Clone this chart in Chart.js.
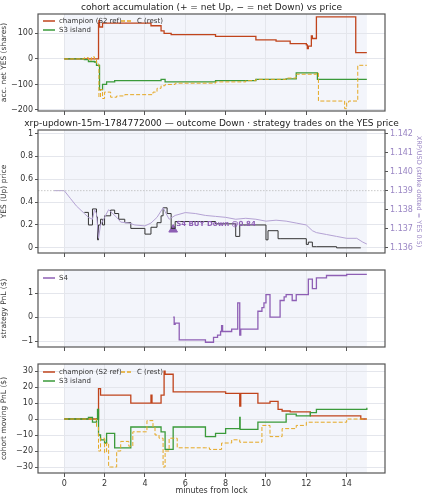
<!DOCTYPE html>
<html><head><meta charset="utf-8">
<script src="https://cdn.jsdelivr.net/npm/chart.js@4"></script>
<style>body{margin:0;background:#fff;width:423px;height:500px;position:relative;overflow:hidden}canvas{position:absolute;left:0}</style>
</head><body>
<div id="w1" style="position:absolute;left:0;top:0;width:423px;height:118px"><canvas id="c1"></canvas></div>
<div id="w2" style="position:absolute;left:0;top:118px;width:423px;height:142px"><canvas id="c2"></canvas></div>
<div id="w3" style="position:absolute;left:0;top:262px;width:423px;height:92px"><canvas id="c3"></canvas></div>
<div id="w4" style="position:absolute;left:0;top:354px;width:423px;height:146px"><canvas id="c4"></canvas></div>
<script>
// ---------- data ----------
const xTicks = [0,2,4,6,8,10,12,14];
// panel 1: accumulated net YES shares
const accChampX = [0,1.7,1.72,1.75,1.9,4.3,4.8,4.95,5.3,7.5,9.5,10.5,11.2,12.0,12.05,12.1,12.25,12.3,12.5,14.45,15.0];
const accChampY = [0,140,150,125,140,130,110,100,95,88,75,70,60,55,40,50,90,80,165,25,25];
const accS3X = [0,1.0,1.2,1.5,1.6,1.75,1.9,2.1,2.5,4.8,5.0,7.5,9.5,11.0,11.5,12.55,15.0];
const accS3Y = [0,-3,-10,-12,-25,-120,-100,-90,-85,-80,-90,-85,-80,-78,-55,-80,-80];
const accCX = [0,1.0,1.2,1.35,1.5,1.6,1.72,1.8,1.9,2.0,2.3,2.6,3.0,3.5,4.4,4.6,4.8,5.0,5.5,7.5,9.0,9.5,11.0,11.5,12.5,12.6,13.9,14.0,14.1,14.55,15.0];
const accCY = [0,5,-5,8,-3,-20,-150,-120,-155,-130,-150,-145,-140,-140,-130,-115,-105,-100,-95,-90,-85,-80,-75,-60,-55,-165,-195,-170,-165,-25,-25];
// panel 2: YES price and XRP/USD
const yesX = [1.0,1.2,1.4,1.6,1.65,1.7,1.8,1.9,2.0,2.3,2.5,2.7,3.0,3.3,4.0,4.3,4.6,4.8,4.9,5.1,5.3,5.5,7.5,8.5,8.7,10.0,10.1,10.2,10.6,10.7,12.0,12.1,12.3,12.5,13.5,14.7];
const yesY = [0.31,0.2,0.34,0.27,0.07,0.2,0.25,0.2,0.28,0.33,0.3,0.25,0.22,0.17,0.12,0.18,0.22,0.28,0.35,0.3,0.17,0.23,0.21,0.1,0.2,0.07,0.15,0.15,0.08,0.08,0.03,0.05,0.01,0.01,0.0,0.0];
const xrpX = [-0.5,0,0.3,0.6,1.0,1.2,1.4,1.5,1.6,1.7,1.8,2.0,2.2,2.3,2.6,2.8,3.2,3.5,4.0,4.3,4.6,4.9,5.0,5.2,5.5,6.0,6.5,7.0,7.5,8.0,8.5,9.0,9.5,10.0,10.5,11.0,11.5,12.0,12.3,12.5,13.0,13.5,14.0,14.5,14.8,15.0];
const xrpY = [1.139,1.139,1.1386,1.1382,1.1378,1.1376,1.1375,1.138,1.1378,1.1365,1.1372,1.1376,1.1380,1.1379,1.1376,1.13735,1.1373,1.1372,1.13715,1.1373,1.1376,1.1381,1.1379,1.1375,1.1377,1.13785,1.1378,1.1377,1.13765,1.1376,1.1375,1.13755,1.1375,1.1374,1.13745,1.1374,1.1373,1.1372,1.1369,1.1368,1.1367,1.1366,1.1365,1.1365,1.1363,1.1362];
const tradeX = [5.4];
const tradeY = [0.16];
const tradeLabel = 'S4 BUY Down @0.84';
// panel 3: S4 strategy PnL
const s4X = [5.4,5.45,5.5,5.7,7.0,7.4,7.6,7.75,7.8,7.85,8.0,8.3,8.6,8.7,8.75,9.6,9.8,9.9,10.0,10.2,10.7,10.9,11.0,11.3,11.5,12.0,12.1,12.3,12.5,13.0,14.0,15.0];
const s4Y = [0,-0.3,-0.25,-0.95,-1.05,-0.85,-0.75,-0.6,-0.35,-0.6,-0.6,-0.5,0.6,-0.75,-0.5,0.25,0.4,0.6,0.95,0,0.7,0.85,0.95,0.7,0.95,0.95,1.6,1.2,1.65,1.75,1.8,1.8];
// panel 4: cohort moving PnL
const pnlChampX = [0,1.7,1.8,3.3,4.3,4.35,4.8,4.95,5.0,5.4,7.5,8.0,8.7,8.75,9.6,10.2,10.6,10.8,11.2,12.2,14.7,15.0];
const pnlChampY = [0,19,15,10,15,10,15,30,28,17,17,16,8,16,10,11,6,5,4.5,2,0,0];
const pnlS3X = [0,1.2,1.4,1.6,1.65,1.7,1.8,2.0,2.1,2.5,3.3,4.8,5.0,5.4,7.0,7.5,8.0,8.7,8.72,9.6,11.0,11.5,12.2,12.5,15.0];
const pnlS3Y = [0,1,-2,0,6,-10,-13,-15,-9,-18,-5,-8,-19,-5,-11,-9,-6,1,-6.5,-2,3,2,4,6,7];
const pnlCX = [0,1.6,1.7,1.8,2.0,2.1,2.2,2.3,2.6,2.8,3.2,3.4,4.0,4.1,4.4,4.5,4.7,4.9,5.0,5.2,5.6,7.0,7.2,7.8,8.3,8.7,9.8,10.2,10.8,11.5,12.0,12.5,14.0,15.0];
const pnlCY = [0,-5,-20,-12,-21,-15,-30,-30,-20,-14,-17,-8,-8,-1,-5,-10,-12,-30,-20,-12,-18,-18,-19,-15,-13,-14.5,-4,-11,-6,-4,-2,-2,0,0];

const pts = (xs, ys) => xs.map((x,i)=>({x, y: ys[i]}));
const C_CH='#c0441c', C_S3='#3a9a3a', C_C='#e5a823', C_S4='#8e5fb5', C_XRP='#b4a2d4';
const FONT = 'DejaVu Sans';
Chart.defaults.font.family = FONT;
Chart.defaults.font.size = 8;
Chart.defaults.color = '#333';
Chart.defaults.animation = false;

const bgPlugin = {
  id:'bg',
  beforeDraw(ch){
    const {ctx, chartArea:a, scales} = ch; const x=scales.x;
    ctx.save();
    ctx.fillStyle='#fff'; ctx.fillRect(a.left,a.top,a.width,a.height);
    ctx.fillStyle='#f3f5fb';
    const l=x.getPixelForValue(0), r=x.getPixelForValue(15);
    ctx.fillRect(l,a.top,r-l,a.height);
    ctx.restore();
  },
  afterDraw(ch, args, o){
    const {ctx, chartArea:a} = ch;
    ctx.save(); ctx.strokeStyle='#555'; ctx.lineWidth=1.2;
    ctx.strokeRect(a.left,a.top,a.width,a.height);
    if(o.title){ ctx.fillStyle='#222'; ctx.font='9px '+FONT; ctx.textAlign='center'; ctx.textBaseline='bottom'; ctx.fillText(o.title,(a.left+a.right)/2,a.top-2); }
    if(o.legend){
      ctx.font='7px '+FONT; ctx.textBaseline='middle'; ctx.textAlign='left';
      o.legend.forEach(it=>{
        const x0=a.left+it.col, y0=a.top+it.row;
        ctx.strokeStyle=it.color; ctx.lineWidth=1.5; ctx.setLineDash(it.dash||[]);
        ctx.beginPath(); ctx.moveTo(x0,y0); ctx.lineTo(x0+12,y0); ctx.stroke(); ctx.setLineDash([]);
        ctx.fillStyle='#333'; ctx.fillText(it.text,x0+16,y0);
      });
    }
    if(o.label){
      const xs=ch.scales.x, ys=ch.scales.y;
      ctx.fillStyle=C_S4; ctx.font='bold 7px '+FONT; ctx.textAlign='left'; ctx.textBaseline='middle';
      ctx.fillText(o.label, xs.getPixelForValue(tradeX[0])+3, ys.getPixelForValue(tradeY[0]+0.045));
    }
    ctx.restore();
  }
};
Chart.register(bgPlugin);

function xScale(withLabels, title){
  return { type:'linear', min:-1.3, max:15.9,
    afterBuildTicks(s){ s.ticks = xTicks.map(v=>({value:v})); },
    afterFit(s){ s.height = withLabels ? 27 : 7; },
    grid:{color:'#e4e6ec', tickLength:4, tickColor:'#555'}, border:{display:false},
    ticks:{display:withLabels, color:'#333', font:{size:8}, padding:2, maxRotation:0},
    title:{display:!!title, text:title, font:{size:8}, padding:{top:0}} };
}
function yScale(min,max,ticks,title,pos,w){
  return { type:'linear', min, max, position:pos||'left',
    afterBuildTicks(s){ s.ticks = ticks.map(v=>({value:v})); },
    afterFit(s){ s.width = w||38; },
    grid:{color:'#e4e6ec', tickLength:3, tickColor:'#555', drawOnChartArea: pos!=='right'}, border:{display:false},
    ticks:{font:{size:8}, padding:2, callback:v=>v.toString().replace('-','−')},
    title:{display:true, text:title, font:{size:7.5}, padding:{top:0,bottom:1}} };
}
const line = (data,color,opt={}) => Object.assign({data, borderColor:color, backgroundColor:color, borderWidth:1.3, pointRadius:0, stepped:'before', fill:false}, opt);
const baseOpts = (pad, scales, bg) => ({ responsive:true, maintainAspectRatio:false, layout:{padding:pad},
  plugins:{legend:{display:false}, tooltip:{enabled:false}, bg}, scales, parsing:true });

new Chart(document.getElementById('c1'), { type:'line',
  data:{datasets:[
    line(pts(accCX,accCY),C_C,{borderDash:[4,2],borderWidth:1}),
    line(pts(accS3X,accS3Y),C_S3),
    line(pts(accChampX,accChampY),C_CH),
  ]},
  options: baseOpts({top:14,right:38,left:0,bottom:0},{x:xScale(false), y:yScale(-204,176,[-200,-100,0,100],'acc. net YES (shares)')},
    {title:'cohort accumulation (+ = net Up, − = net Down) vs price', legend:[
      {text:'champion (S2 ref)',color:C_CH,col:5,row:7},{text:'S3 island',color:C_S3,col:5,row:16},{text:'C (rest)',color:C_C,col:83,row:7,dash:[4,2]}]})
});

const rMin = 1.136 + 0.006*(-0.045), rMax = 1.136 + 0.006*1.03;
new Chart(document.getElementById('c2'), { type:'line',
  data:{datasets:[
    line(pts([-1.3,15.9],[0.5,0.5]),'#bbb',{borderDash:[1.5,1.5],borderWidth:0.8,stepped:false}),
    line(pts(xrpX,xrpY),C_XRP,{stepped:false,borderWidth:1,yAxisID:'y2'}),
    line(pts(yesX,yesY),'#333',{borderWidth:1}),
    {type:'scatter', data:pts(tradeX,tradeY), pointStyle:'triangle', pointRadius:5, backgroundColor:C_S4, borderColor:C_S4},
  ]},
  options: baseOpts({top:12,right:0,left:0,bottom:0},{x:xScale(false),
    y:yScale(-0.045,1.03,[0,0.2,0.4,0.6,0.8,1.0],'YES (Up) price'),
    y2:Object.assign(yScale(rMin,rMax,[1.136,1.137,1.138,1.139,1.14,1.141,1.142],'XRP/USD (strike dotted = YES 0.5)','right',38),
      {ticks:{font:{size:8},color:'#9a86c4',padding:2,callback:v=>v.toFixed(3)}, title:{display:true,text:'XRP/USD (strike dotted = YES 0.5)',color:'#9a86c4',font:{size:6.5},padding:0}})
  },{title:'xrp-updown-15m-1784772000 — outcome Down · strategy trades on the YES price', label:tradeLabel})
});

new Chart(document.getElementById('c3'), { type:'line',
  data:{datasets:[ line(pts(s4X,s4Y),C_S4) ]},
  options: baseOpts({top:8,right:38,left:0,bottom:0},{x:xScale(false), y:yScale(-1.25,1.98,[-1,0,1],'strategy PnL ($)')},
    {legend:[{text:'S4',color:C_S4,col:5,row:8}]})
});

new Chart(document.getElementById('c4'), { type:'line',
  data:{datasets:[
    line(pts(pnlCX,pnlCY),C_C,{borderDash:[4,2],borderWidth:1}),
    line(pts(pnlS3X,pnlS3Y),C_S3),
    line(pts(pnlChampX,pnlChampY),C_CH),
  ]},
  options: baseOpts({top:10,right:38,left:0,bottom:0},{x:xScale(true,'minutes from lock'), y:yScale(-33.75,34.4,[-30,-20,-10,0,10,20,30],'cohort moving PnL ($)')},
    {legend:[{text:'champion (S2 ref)',color:C_CH,col:5,row:8},{text:'S3 island',color:C_S3,col:5,row:17},{text:'C (rest)',color:C_C,col:83,row:8,dash:[4,2]}]})
});
</script>
</body></html>
